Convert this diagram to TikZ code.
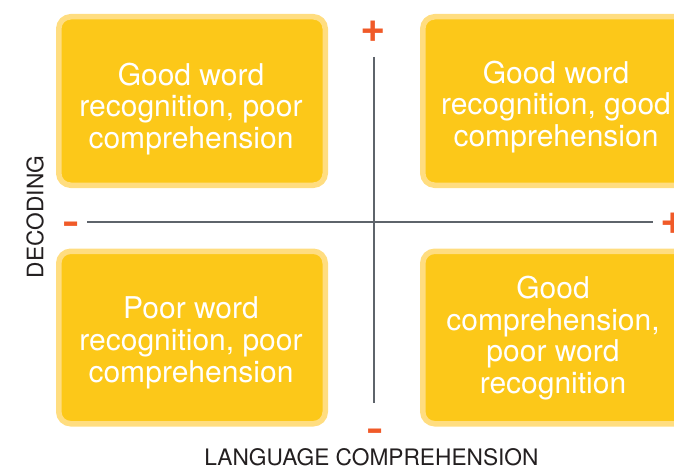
\documentclass[tikz,border=0pt]{standalone}
\usepackage{fontspec}
\setmainfont{TeX Gyre Heros}
\newfontfamily\signfont{Liberation Sans}
\usepackage{graphicx}
\definecolor{boxfill}{HTML}{FCC819}
\definecolor{boxedge}{HTML}{FFDD80}
\definecolor{axisgray}{HTML}{5E646B}
\definecolor{signorange}{HTML}{F05A28}
\definecolor{labelgray}{HTML}{231F20}
\begin{document}
\begin{tikzpicture}[x=1pt,y=-1pt,
  quad/.style={draw=boxedge, fill=boxfill, line width=5.5pt, rounded corners=12pt,
    minimum width=266.5pt, inner sep=0pt},
  quadtext/.style={text=white, align=center, font=\fontsize{30}{31.8}\selectfont, inner sep=0pt},
  axisline/.style={draw=axisgray, line width=2pt},
  sign/.style={text=signorange, font=\signfont\bfseries\fontsize{40}{40}\selectfont, inner sep=0pt, anchor=base},
  axislabel/.style={text=labelgray, font=\fontsize{22.7}{23}\selectfont, inner sep=0pt}]
\useasboundingbox (0,0) rectangle (674,468);
\clip (0,0) rectangle (674,468);
% quadrant boxes
\node[quad, minimum height=168.5pt] (tl) at (192,101) {};
\node[quad, minimum height=168.5pt] (tr) at (556,101) {};
\node[quad, minimum height=172.5pt] (bl) at (192,337.5) {};
\node[quad, minimum height=172.5pt] (br) at (556,337.5) {};
% quadrant texts
\node[quadtext] (tltext) at (191,109) {Good word\\recognition, poor\\comprehension};
\node[quadtext] (trtext) at (556,107) {Good word\\recognition, good\\comprehension};
\node[quadtext] (bltext) at (191,343) {Poor word\\recognition, poor\\comprehension};
\node[quadtext] (brtext) at (553,338) {Good\\comprehension,\\poor word\\recognition};
% axes
\coordinate (hl) at (87,222);
\coordinate (hr) at (653,222);
\coordinate (vt) at (374,57);
\coordinate (vb) at (374,403);
\draw[axisline] (hl) -- (hr);
\draw[axisline] (vt) -- (vb);
% signs
\node[sign] (ptop) at (373,44.7) {+};
\node[sign] (pright) at (673,236.7) {+};
\node[sign] (mleft) at (71,237.7) {\scalebox{0.65}[1]{−}};
\node[sign] (mbot) at (375,444.7) {\scalebox{0.65}[1]{−}};
% axis labels
\node[axislabel, rotate=90] (dec) at (35,217) {DECODING};
\node[axislabel, anchor=base] (lc) at (371.5,465.5) {LANGUAGE COMPREHENSION};
\end{tikzpicture}
\end{document}
